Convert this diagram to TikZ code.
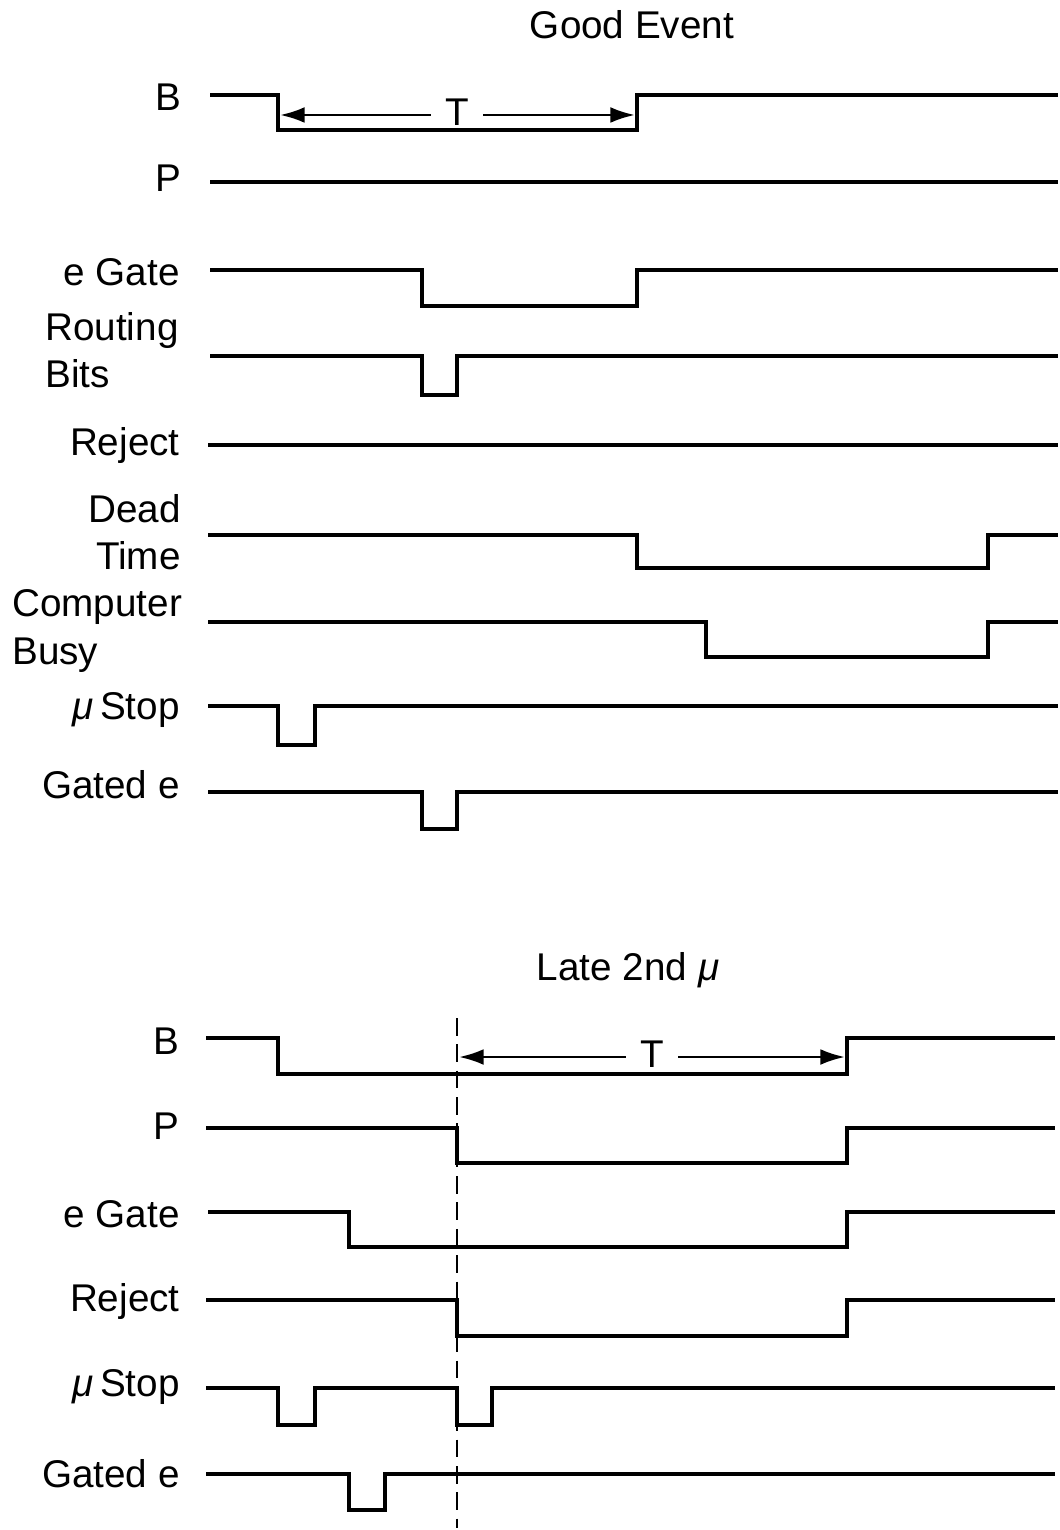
\documentclass[tikz,border=0pt]{standalone}
\usepackage{fontspec}
\setmainfont{Liberation Sans}
\usetikzlibrary{arrows.meta}
\tikzset{
  sig/.style={line width=2.2pt, line join=miter},
  lbl/.style={inner sep=0pt, font=\fontsize{22}{27}\selectfont},
  ttl/.style={inner sep=0pt, font=\fontsize{22}{27}\selectfont},
  tarrow/.style={line width=1.6pt, -{Latex[length=14pt,width=9pt]}}
}
\newcommand{\mustop}{\textit{μ}}
\begin{document}
\begin{tikzpicture}[x=0.02cm, y=-0.02cm]
  \useasboundingbox (0,0) rectangle (1060,1530);

  % good event
  \node[ttl] (title1) at (632,25) {Good Event};
  \node[lbl, anchor=east] (b1) at (182,97) {B};
  \node[lbl, anchor=east] (p1) at (182,178) {P};
  \node[lbl, anchor=east] (eg1) at (180,272) {e Gate};
  \node[lbl, anchor=west, align=left] (rb1) at (45,350) {Routing\\Bits};
  \node[lbl, anchor=east] (rj1) at (180,446) {Reject};
  \node[lbl, anchor=east, align=right] (dt1) at (181,532) {Dead\\Time};
  \node[lbl, anchor=west, align=left] (cb1) at (12,631) {Computer\\Busy};
  \node[lbl, anchor=east] (ms1) at (180,710) {\mustop\,Stop};
  \node[lbl, anchor=east] (ge1) at (180,785) {Gated e};

  \begin{scope}[sig]
    \draw (210,95) -- (278,95) -- (278,130) -- (637,130) -- (637,95) -- (1058,95);
    \draw (210,182) -- (1058,182);
    \draw (210,270) -- (422,270) -- (422,306) -- (637,306) -- (637,270) -- (1058,270);
    \draw (210,356) -- (422,356) -- (422,395) -- (457,395) -- (457,356) -- (1058,356);
    \draw (208,445) -- (1058,445);
    \draw (208,535) -- (637,535) -- (637,568) -- (988,568) -- (988,535) -- (1058,535);
    \draw (208,622) -- (706,622) -- (706,657) -- (988,657) -- (988,622) -- (1058,622);
    \draw (208,706) -- (278,706) -- (278,745) -- (315,745) -- (315,706) -- (1058,706);
    \draw (208,792) -- (422,792) -- (422,829) -- (457,829) -- (457,792) -- (1058,792);
  \end{scope}
  \coordinate (t1a) at (280,115);
  \coordinate (t1b) at (635,115);
  \node[lbl] (tt1) at (457,112) {T};
  \draw[tarrow] ([xshift=-8pt]tt1.west |- t1a) -- (t1a);
  \draw[tarrow] ([xshift=8pt]tt1.east |- t1b) -- (t1b);

  % late 2nd mu
  \node[ttl] (title2) at (628,970) {Late 2nd \mustop};
  \node[lbl, anchor=east] (b2) at (180,1041) {B};
  \node[lbl, anchor=east] (p2) at (180,1126) {P};
  \node[lbl, anchor=east] (eg2) at (180,1214) {e Gate};
  \node[lbl, anchor=east] (rj2) at (180,1301) {Reject};
  \node[lbl, anchor=east] (ms2) at (180,1387) {\mustop\,Stop};
  \node[lbl, anchor=east] (ge2) at (180,1474) {Gated e};

  \begin{scope}[sig]
    \draw (206,1038) -- (278,1038) -- (278,1074) -- (847,1074) -- (847,1038) -- (1055,1038);
    \draw (206,1128) -- (457,1128) -- (457,1163) -- (847,1163) -- (847,1128) -- (1055,1128);
    \draw (208,1212) -- (349,1212) -- (349,1247) -- (847,1247) -- (847,1212) -- (1055,1212);
    \draw (206,1300) -- (457,1300) -- (457,1336) -- (847,1336) -- (847,1300) -- (1055,1300);
    \draw (206,1388) -- (278,1388) -- (278,1425) -- (315,1425) -- (315,1388) -- (457,1388)
      -- (457,1425) -- (492,1425) -- (492,1388) -- (1055,1388);
    \draw (206,1474) -- (349,1474) -- (349,1510) -- (385,1510) -- (385,1474) -- (1055,1474);
  \end{scope}
  \coordinate (vtop) at (457,1018);
  \coordinate (vbot) at (457,1528);
  \draw[line width=1.6pt, dash pattern=on 10pt off 5pt] (vtop) -- (vbot);
  \coordinate (t2a) at (459,1057);
  \coordinate (t2b) at (845,1057);
  \node[lbl] (tt2) at (652,1054) {T};
  \draw[tarrow] ([xshift=-8pt]tt2.west |- t2a) -- (t2a);
  \draw[tarrow] ([xshift=8pt]tt2.east |- t2b) -- (t2b);
\end{tikzpicture}
\end{document}
